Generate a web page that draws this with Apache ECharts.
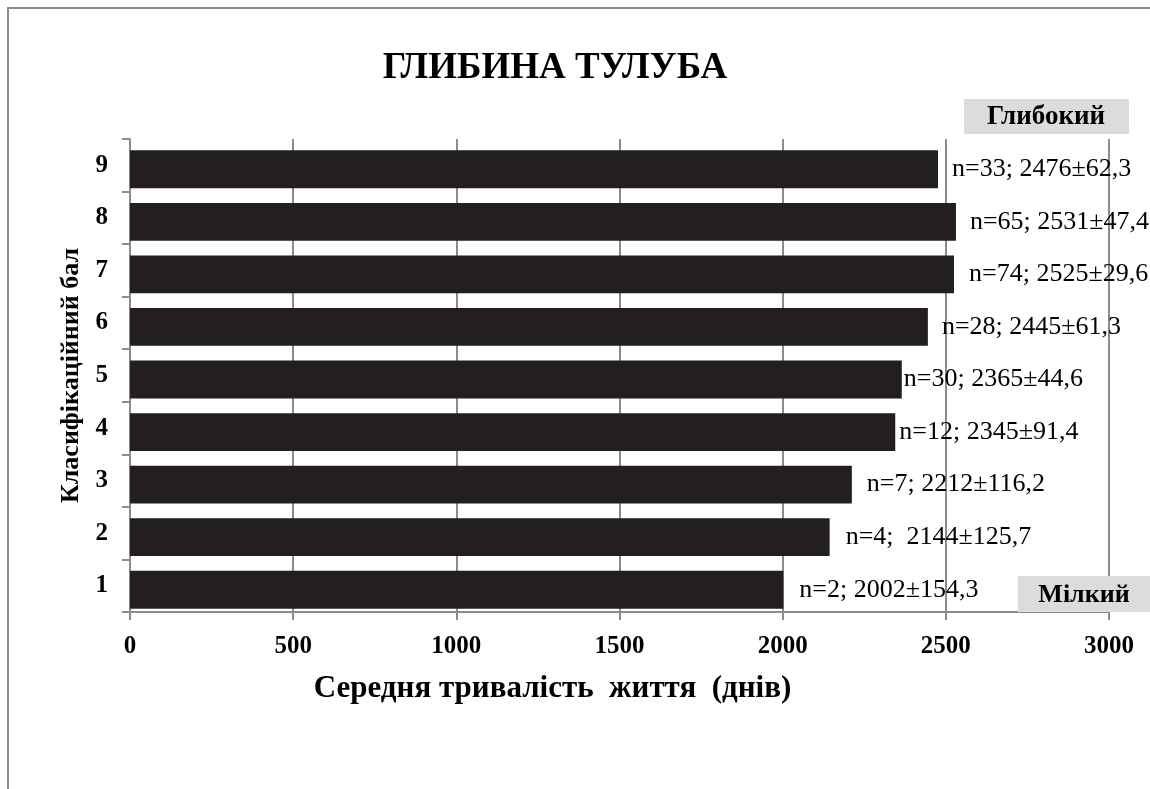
<!DOCTYPE html>
<html>
<head>
<meta charset="utf-8">
<script src="https://cdn.jsdelivr.net/npm/echarts@6/dist/echarts.min.js"></script>
<style>
html,body{margin:0;padding:0;background:#fff;}
#chart{width:1150px;height:789px;}
</style>
</head>
<body>
<div id="chart"></div>
<script>
const categories = ['1','2','3','4','5','6','7','8','9'];
const meanLifespan = [2002, 2144, 2212, 2345, 2365, 2445, 2525, 2531, 2476];
const barLabels = [
  'n=2; 2002±154,3',
  'n=4;  2144±125,7',
  'n=7; 2212±116,2',
  'n=12; 2345±91,4',
  'n=30; 2365±44,6',
  'n=28; 2445±61,3',
  'n=74; 2525±29,6',
  'n=65; 2531±47,4',
  'n=33; 2476±62,3'
];
const labelGaps = [16, 16, 15, 4, 2, 14, 15, 14, 14];
const xTicks = {min: 0, max: 3000, interval: 500};

const FONT = '"Liberation Serif", "Times New Roman", serif';
const GRAY = '#8c8c8c';
const chart = echarts.init(document.getElementById('chart'));
chart.setOption({
  backgroundColor: '#ffffff',
  animation: false,
  title: {
    text: 'ГЛИБИНА ТУЛУБА',
    left: 550, top: 45, textAlign: 'center',
    textStyle: {fontFamily: FONT, fontSize: 37, fontWeight: 'bold', color: '#000'}
  },
  grid: [
    {left: 130, right: 41, top: 139, bottom: 177, containLabel: false},
    {left: 130, right: 41, top: 143, bottom: 173, containLabel: false}
  ],
  xAxis: [{
    gridIndex: 0,
    type: 'value', min: xTicks.min, max: xTicks.max, interval: xTicks.interval,
    name: 'Середня тривалість  життя  (днів)',
    nameLocation: 'middle', nameGap: 61,
    nameTextStyle: {fontFamily: FONT, fontSize: 31, fontWeight: 'bold', color: '#000', padding: [0, 134, 0, 0]},
    axisLine: {show: true, lineStyle: {color: GRAY, width: 2}},
    axisTick: {show: true, length: 8, lineStyle: {color: GRAY, width: 2}},
    axisLabel: {fontFamily: FONT, fontSize: 25, fontWeight: 'bold', color: '#000', margin: 22,
                formatter: v => String(v)},
    splitLine: {show: true, lineStyle: {color: GRAY, width: 2}}
  }, {
    gridIndex: 1,
    type: 'value', min: xTicks.min, max: xTicks.max, interval: xTicks.interval,
    show: false, splitLine: {show: false}
  }],
  yAxis: [{
    gridIndex: 0,
    type: 'category', data: categories,
    name: 'Класифікаційний бал',
    nameLocation: 'middle', nameGap: 45, nameRotate: 90,
    nameTextStyle: {fontFamily: FONT, fontSize: 26, fontWeight: 'bold', color: '#000'},
    axisLine: {show: true, lineStyle: {color: GRAY, width: 2}},
    axisTick: {show: true, length: 8, lineStyle: {color: GRAY, width: 2}},
    axisLabel: {fontFamily: FONT, fontSize: 25, fontWeight: 'bold', color: '#000', margin: 22}
  }, {
    gridIndex: 1,
    type: 'category', data: categories, show: false
  }],
  series: [{
    type: 'bar',
    xAxisIndex: 1, yAxisIndex: 1,
    data: meanLifespan.map((v, i) => ({value: v, label: {distance: labelGaps[i]}})),
    barCategoryGap: '28%',
    itemStyle: {color: '#231f20'},
    label: {
      show: true, position: 'right',
      fontFamily: FONT, fontSize: 26, color: '#000',
      formatter: p => barLabels[p.dataIndex]
    },
    z: 5
  }],
  graphic: [
    {type: 'rect', shape: {x: 8, y: 8, width: 1300, height: 1000},
     style: {fill: 'none', stroke: GRAY, lineWidth: 2}, z: 0},
    {type: 'rect', shape: {x: 964, y: 99, width: 165, height: 35},
     style: {fill: '#dcdcdc'}, z: 10},
    {type: 'text', x: 1046, y: 117, z: 11,
     style: {text: 'Глибокий', font: 'bold 27px ' + FONT, fill: '#000', align: 'center', verticalAlign: 'middle'}},
    {type: 'rect', shape: {x: 1018, y: 576, width: 140, height: 36},
     style: {fill: '#dcdcdc'}, z: 10},
    {type: 'text', x: 1084, y: 595, z: 11,
     style: {text: 'Мілкий', font: 'bold 26px ' + FONT, fill: '#000', align: 'center', verticalAlign: 'middle'}}
  ]
});
</script>
</body>
</html>
